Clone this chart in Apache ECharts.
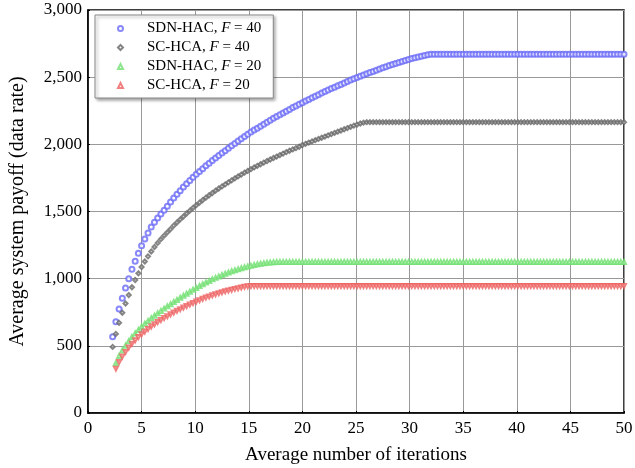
<!DOCTYPE html>
<html>
<head>
<meta charset="utf-8">
<script src="https://cdn.jsdelivr.net/npm/echarts@6/dist/echarts.min.js"></script>
<style>
  html, body { margin: 0; padding: 0; background: #fff; }
  #chart { width: 635px; height: 468px; }
</style>
</head>
<body>
<div id="chart"></div>
<script>
// iteration samples (x)
var iters = [
  2.3, 2.6, 2.9, 3.2, 3.5, 3.8, 4.1, 4.4, 4.7, 5.0,
  5.3, 5.6, 5.9, 6.2, 6.5, 6.8, 7.1, 7.4, 7.7, 8.0,
  8.3, 8.6, 8.9, 9.2, 9.5, 9.8, 10.1, 10.4, 10.7, 11.0,
  11.3, 11.6, 11.9, 12.2, 12.5, 12.8, 13.1, 13.4, 13.7, 14.0,
  14.3, 14.6, 14.9, 15.2, 15.5, 15.8, 16.1, 16.4, 16.7, 17.0,
  17.3, 17.6, 17.9, 18.2, 18.5, 18.8, 19.1, 19.4, 19.7, 20.0,
  20.3, 20.6, 20.9, 21.2, 21.5, 21.8, 22.1, 22.4, 22.7, 23.0,
  23.3, 23.6, 23.9, 24.2, 24.5, 24.8, 25.1, 25.4, 25.7, 26.0,
  26.3, 26.6, 26.9, 27.2, 27.5, 27.8, 28.1, 28.4, 28.7, 29.0,
  29.3, 29.6, 29.9, 30.2, 30.5, 30.8, 31.1, 31.4, 31.7, 32.0,
  32.3, 32.6, 32.9, 33.2, 33.5, 33.8, 34.1, 34.4, 34.7, 35.0,
  35.3, 35.6, 35.9, 36.2, 36.5, 36.8, 37.1, 37.4, 37.7, 38.0,
  38.3, 38.6, 38.9, 39.2, 39.5, 39.8, 40.1, 40.4, 40.7, 41.0,
  41.3, 41.6, 41.9, 42.2, 42.5, 42.8, 43.1, 43.4, 43.7, 44.0,
  44.3, 44.6, 44.9, 45.2, 45.5, 45.8, 46.1, 46.4, 46.7, 47.0,
  47.3, 47.6, 47.9, 48.2, 48.5, 48.8, 49.1, 49.4, 49.7, 50.0
];

// SDN-HAC, F = 40
var sdnHac40 = [
  567, 679, 775, 855, 930, 1000, 1070, 1130, 1190, 1245,
  1295, 1340, 1385, 1420, 1452, 1482, 1510, 1540, 1570, 1600,
  1628, 1655, 1682, 1707, 1731, 1755, 1777, 1798, 1819, 1840,
  1860, 1880, 1899, 1917, 1935, 1953, 1971, 1989, 2007, 2025,
  2042, 2058, 2075, 2091, 2106, 2120, 2135, 2150, 2165, 2180,
  2194, 2207, 2221, 2234, 2247, 2260, 2274, 2286, 2298, 2310,
  2322, 2334, 2346, 2358, 2370, 2382, 2394, 2404, 2415, 2425,
  2436, 2446, 2457, 2467, 2478, 2488, 2498, 2507, 2516, 2525,
  2534, 2543, 2552, 2561, 2570, 2578, 2587, 2595, 2602, 2610,
  2617, 2625, 2632, 2639, 2645, 2651, 2656, 2661, 2666, 2670,
  2670, 2670, 2670, 2670, 2670, 2670, 2670, 2670, 2670, 2670,
  2670, 2670, 2670, 2670, 2670, 2670, 2670, 2670, 2670, 2670,
  2670, 2670, 2670, 2670, 2670, 2670, 2670, 2670, 2670, 2670,
  2670, 2670, 2670, 2670, 2670, 2670, 2670, 2670, 2670, 2670,
  2670, 2670, 2670, 2670, 2670, 2670, 2670, 2670, 2670, 2670,
  2670, 2670, 2670, 2670, 2670, 2670, 2670, 2670, 2670, 2670
];

// SC-HCA, F = 40
var scHca40 = [
  492, 589, 671, 746, 815, 878, 936, 990, 1040, 1087,
  1128, 1166, 1202, 1236, 1266, 1294, 1320, 1345, 1369, 1395,
  1418, 1441, 1463, 1485, 1506, 1527, 1547, 1566, 1585, 1603,
  1621, 1638, 1655, 1671, 1687, 1702, 1717, 1732, 1747, 1761,
  1775, 1789, 1802, 1815, 1828, 1840, 1852, 1864, 1876, 1887,
  1898, 1909, 1920, 1931, 1942, 1952, 1962, 1972, 1982, 1995,
  2004, 2013, 2022, 2031, 2040, 2049, 2058, 2067, 2076, 2085,
  2094, 2103, 2112, 2121, 2130, 2139, 2147, 2155, 2161, 2165,
  2165, 2165, 2165, 2165, 2165, 2165, 2165, 2165, 2165, 2165,
  2165, 2165, 2165, 2165, 2165, 2165, 2165, 2165, 2165, 2165,
  2165, 2165, 2165, 2165, 2165, 2165, 2165, 2165, 2165, 2165,
  2165, 2165, 2165, 2165, 2165, 2165, 2165, 2165, 2165, 2165,
  2165, 2165, 2165, 2165, 2165, 2165, 2165, 2165, 2165, 2165,
  2165, 2165, 2165, 2165, 2165, 2165, 2165, 2165, 2165, 2165,
  2165, 2165, 2165, 2165, 2165, 2165, 2165, 2165, 2165, 2165,
  2165, 2165, 2165, 2165, 2165, 2165, 2165, 2165, 2165, 2165
];

// SDN-HAC, F = 20
var sdnHac20 = [
  null, 370, 425, 465, 500, 535, 565, 592, 618, 642,
  664, 685, 705, 724, 742, 760, 777, 794, 810, 826,
  842, 858, 873, 888, 903, 917, 931, 945, 958, 971,
  983, 995, 1006, 1017, 1027, 1037, 1046, 1055, 1063, 1071,
  1078, 1085, 1091, 1097, 1102, 1107, 1111, 1115, 1118, 1121,
  1123, 1125, 1125, 1125, 1125, 1125, 1125, 1125, 1125, 1125,
  1125, 1125, 1125, 1125, 1125, 1125, 1125, 1125, 1125, 1125,
  1125, 1125, 1125, 1125, 1125, 1125, 1125, 1125, 1125, 1125,
  1125, 1125, 1125, 1125, 1125, 1125, 1125, 1125, 1125, 1125,
  1125, 1125, 1125, 1125, 1125, 1125, 1125, 1125, 1125, 1125,
  1125, 1125, 1125, 1125, 1125, 1125, 1125, 1125, 1125, 1125,
  1125, 1125, 1125, 1125, 1125, 1125, 1125, 1125, 1125, 1125,
  1125, 1125, 1125, 1125, 1125, 1125, 1125, 1125, 1125, 1125,
  1125, 1125, 1125, 1125, 1125, 1125, 1125, 1125, 1125, 1125,
  1125, 1125, 1125, 1125, 1125, 1125, 1125, 1125, 1125, 1125,
  1125, 1125, 1125, 1125, 1125, 1125, 1125, 1125, 1125, 1125
];

// SC-HCA, F = 20
var scHca20 = [
  null, 330, 380, 420, 455, 487, 515, 541, 565, 587,
  607, 626, 644, 661, 677, 692, 707, 721, 735, 748,
  761, 773, 785, 797, 808, 819, 830, 840, 850, 859,
  868, 876, 884, 892, 899, 906, 912, 918, 924, 929,
  934, 939, 943, 945, 945, 945, 945, 945, 945, 945,
  945, 945, 945, 945, 945, 945, 945, 945, 945, 945,
  945, 945, 945, 945, 945, 945, 945, 945, 945, 945,
  945, 945, 945, 945, 945, 945, 945, 945, 945, 945,
  945, 945, 945, 945, 945, 945, 945, 945, 945, 945,
  945, 945, 945, 945, 945, 945, 945, 945, 945, 945,
  945, 945, 945, 945, 945, 945, 945, 945, 945, 945,
  945, 945, 945, 945, 945, 945, 945, 945, 945, 945,
  945, 945, 945, 945, 945, 945, 945, 945, 945, 945,
  945, 945, 945, 945, 945, 945, 945, 945, 945, 945,
  945, 945, 945, 945, 945, 945, 945, 945, 945, 945,
  945, 945, 945, 945, 945, 945, 945, 945, 945, 945
];

var legendNames = ['SDN-HAC, F = 40', 'SC-HCA, F = 40', 'SDN-HAC, F = 20', 'SC-HCA, F = 20'];

function pairs(ys) {
  var out = [];
  for (var i = 0; i < iters.length; i++) {
    if (ys[i] != null) out.push([iters[i], ys[i]]);
  }
  return out;
}

var serif = 'Liberation Serif';

var myChart = echarts.init(document.getElementById('chart'));
var option = {
  animation: false,
  backgroundColor: '#fff',
  grid: {
    left: 88, right: 11, top: 10, bottom: 55,
    outerBoundsMode: 'none',
    show: true, borderColor: '#000', borderWidth: 1.5
  },
  legend: {
    orient: 'vertical',
    left: 95, top: 15,
    padding: [6, 12, 5, 22],
    itemGap: 4,
    itemWidth: 5, itemHeight: 5,
    backgroundColor: '#fff',
    borderColor: '#888', borderWidth: 1,
    shadowColor: 'rgba(0,0,0,0.35)', shadowBlur: 3, shadowOffsetX: 2, shadowOffsetY: 2,
    data: legendNames,
    formatter: function (name) {
      var p = name.split('F');
      return p[0] + '{i|F}' + p[1];
    },
    textStyle: {
      fontFamily: serif, fontSize: 15, color: '#000', padding: [0, 0, 0, 19],
      rich: { i: { fontFamily: serif, fontSize: 15, fontStyle: 'italic', color: '#000' } }
    }
  },
  xAxis: {
    type: 'value', min: 0, max: 50, interval: 5,
    name: 'Average number of iterations',
    nameLocation: 'middle', nameGap: 33,
    nameTextStyle: { fontFamily: serif, fontSize: 19, color: '#000' },
    axisLine: { lineStyle: { color: '#000', width: 1.5 } },
    axisTick: { show: true, inside: true, length: 2, lineStyle: { color: '#000' } },
    axisLabel: { fontFamily: serif, fontSize: 17, color: '#000', margin: 7 },
    splitLine: { lineStyle: { color: '#999', width: 1 } }
  },
  yAxis: {
    type: 'value', min: 0, max: 3000, interval: 500,
    name: 'Average system payoff (data rate)',
    nameLocation: 'middle', nameGap: 60,
    nameTextStyle: { fontFamily: serif, fontSize: 20, color: '#000' },
    axisLine: { show: true, lineStyle: { color: '#000', width: 1.5 } },
    axisTick: { show: true, inside: true, length: 2, lineStyle: { color: '#000' } },
    axisLabel: {
      fontFamily: serif, fontSize: 17, color: '#000', margin: 6,
      formatter: function (v) { return v.toLocaleString('en-US'); }
    },
    splitLine: { lineStyle: { color: '#999', width: 1 } }
  },
  series: [
    {
      name: legendNames[0], type: 'scatter', data: pairs(sdnHac40),
      symbol: 'emptyCircle', symbolSize: 5,
      itemStyle: { color: '#6a6af8', borderWidth: 0.9 }
    },
    {
      name: legendNames[1], type: 'scatter', data: pairs(scHca40),
      symbol: 'emptyDiamond', symbolSize: 4,
      itemStyle: { color: '#666', borderWidth: 0.8 }
    },
    {
      name: legendNames[2], type: 'scatter', data: pairs(sdnHac20),
      symbol: 'emptyTriangle', symbolSize: 4,
      itemStyle: { color: '#70e070', borderWidth: 0.9 }
    },
    {
      name: legendNames[3], type: 'scatter', data: pairs(scHca20),
      symbol: 'emptyTriangle', symbolSize: 4, symbolRotate: 180,
      itemStyle: { color: '#ee6060', borderWidth: 0.9 }
    }
  ]
};
myChart.setOption(option);
</script>
</body>
</html>
